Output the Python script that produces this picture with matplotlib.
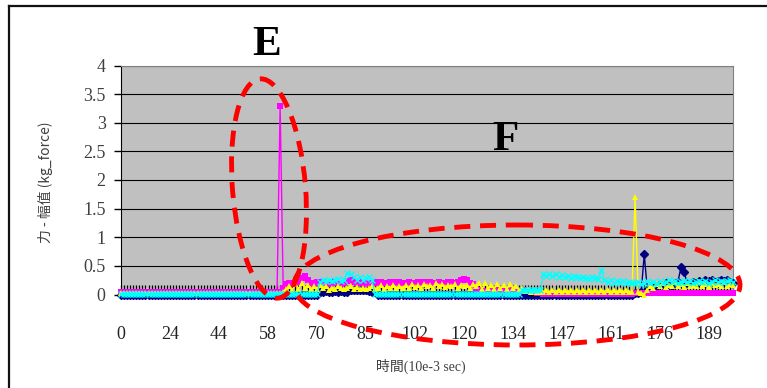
import matplotlib
matplotlib.use("Agg")
import matplotlib.pyplot as plt
from matplotlib.patches import Ellipse
import numpy as np

plt.rcParams['font.family'] = ['Liberation Serif', 'Noto Sans CJK TC']

# category labels (time, 10e-3 sec), one label every 16 samples
time_labels = ['0', '24', '44', '58', '70', '85', '102', '120', '134', '147', '161', '176', '189']
yticks = [0, 0.5, 1, 1.5, 2, 2.5, 3, 3.5, 4]
ytick_labels = ['0', '0.5', '1', '1.5', '2', '2.5', '3', '3.5', '4']

# series values, rows of 10 samples (comment = first index)
black = [
    0.12, 0.12, 0.12, 0.12, 0.12, 0.12, 0.12, 0.12, 0.12, 0.12,  # 0
    0.12, 0.12, 0.12, 0.12, 0.12, 0.12, 0.12, 0.12, 0.12, 0.12,  # 10
    0.12, 0.12, 0.12, 0.12, 0.12, 0.12, 0.12, 0.12, 0.12, 0.12,  # 20
    0.12, 0.12, 0.12, 0.12, 0.12, 0.12, 0.12, 0.12, 0.12, 0.12,  # 30
    0.12, 0.12, 0.12, 0.12, 0.12, 0.12, 0.12, 0.12, 0.12, 0.12,  # 40
    0.12, 0.12, 0.12, 0.12, 0.12, 0.12, 0.12, 0.12, 0.12, 0.12,  # 50
    0.12, 0.12, 0.12, 0.12, 0.12, 0.12, 0.12, 0.12, 0.12, 0.12,  # 60
    0.12, 0.12, 0.12, 0.12, 0.12, 0.12, 0.12, 0.12, 0.12, 0.12,  # 70
    0.12, 0.12, 0.12, 0.12, 0.12, 0.12, 0.12, 0.12, 0.12, 0.12,  # 80
    0.12, 0.12, 0.12, 0.12, 0.12, 0.12, 0.12, 0.12, 0.12, 0.12,  # 90
    0.12, 0.12, 0.12, 0.12, 0.12, 0.12, 0.12, 0.12, 0.12, 0.12,  # 100
    0.12, 0.12, 0.12, 0.12, 0.12, 0.12, 0.12, 0.12, 0.12, 0.12,  # 110
    0.12, 0.12, 0.12, 0.12, 0.12, 0.12, 0.12, 0.12, 0.12, 0.12,  # 120
    0.12, 0.12, 0.12, 0.12, 0.12, 0.12, 0.12, 0.12, 0.12, 0.12,  # 130
    0.12, 0.12, 0.12, 0.12, 0.12, 0.12, 0.12, 0.12, 0.12, 0.12,  # 140
    0.12, 0.12, 0.12, 0.12, 0.12, 0.12, 0.12, 0.12, 0.12, 0.12,  # 150
    0.12, 0.12, 0.12, 0.12, 0.12, 0.12, 0.12, 0.12, 0.12, 0.12,  # 160
    0.12, 0.12, 0.12, 0.12, 0.12, 0.12, 0.12, 0.12, 0.12, 0.12,  # 170
    0.12, 0.12, 0.12, 0.12, 0.12, 0.12, 0.12, 0.12, 0.12, 0.12,  # 180
    0.12, 0.12, 0.12, 0.12, 0.12, 0.12, 0.12, 0.12, 0.12, 0.12,  # 190
    0.12,                                                        # 200
]

navy = [
    0, 0, 0, 0, 0, 0, 0, 0, 0, 0,  # 0
    0, 0, 0, 0, 0, 0, 0, 0, 0, 0,  # 10
    0, 0, 0, 0, 0, 0, 0, 0, 0, 0,  # 20
    0, 0, 0, 0, 0, 0, 0, 0, 0, 0,  # 30
    0, 0, 0, 0, 0, 0, 0, 0, 0, 0,  # 40
    0, 0, 0, 0, 0, 0, 0, 0, 0, 0,  # 50
    0, 0, 0, 0, 0, 0.05, 0.05, 0.06, 0.05, 0.05,  # 60
    0.06, 0.05, 0.06, 0.05, 0.05, 0.08, 0.08, 0.07, 0.08, 0.08,  # 70
    0.07, 0.06, 0.05, 0.05, 0, 0, 0, 0, 0, 0,  # 80
    0, 0, 0, 0, 0, 0, 0, 0, 0, 0,  # 90
    0, 0, 0, 0, 0, 0, 0, 0, 0, 0,  # 100
    0, 0, 0, 0, 0, 0, 0, 0, 0, 0,  # 110
    0, 0, 0, 0, 0, 0, 0, 0, 0, 0,  # 120
    0, 0, 0, 0, 0, 0, 0, 0, 0, 0,  # 130
    0, 0, 0, 0, 0, 0, 0, 0, 0, 0,  # 140
    0, 0, 0, 0, 0, 0, 0, 0, 0, 0,  # 150
    0, 0, 0, 0, 0, 0, 0, 0, 0.02, 0.03,  # 160
    0.05, 0.7, 0.08, 0.1, 0.12, 0.15, 0.18, 0.16, 0.2, 0.17,  # 170
    0.15, 0.2, 0.22, 0.48, 0.4, 0.2, 0.18, 0.22, 0.2, 0.24,  # 180
    0.22, 0.26, 0.23, 0.25, 0.22, 0.24, 0.26, 0.23, 0.25, 0.22,  # 190
    0.2,  # 200
]

magenta = [
    0.05, 0.05, 0.05, 0.05, 0.05, 0.05, 0.05, 0.05, 0.05, 0.05,  # 0
    0.05, 0.05, 0.05, 0.05, 0.05, 0.05, 0.05, 0.05, 0.05, 0.05,  # 10
    0.05, 0.05, 0.05, 0.05, 0.05, 0.05, 0.05, 0.05, 0.05, 0.05,  # 20
    0.05, 0.05, 0.05, 0.05, 0.05, 0.05, 0.05, 0.05, 0.05, 0.05,  # 30
    0.05, 0.05, 0.05, 0.05, 0.05, 0.05, 0.05, 0.05, 0.05, 0.05,  # 40
    0.05, 0.04, 3.3, 0.12, 0.18, 0.2, 0.19, 0.2, 0.22, 0.28,  # 50
    0.32, 0.26, 0.2, 0.19, 0.22, 0.21, 0.22, 0.2, 0.19, 0.2,  # 60
    0.21, 0.2, 0.19, 0.2, 0.24, 0.26, 0.22, 0.2, 0.2, 0.21,  # 70
    0.19, 0.2, 0.2, 0.21, 0.2, 0.21, 0.2, 0.2, 0.22, 0.21,  # 80
    0.2, 0.21, 0.2, 0.2, 0.21, 0.2, 0.2, 0.21, 0.2, 0.22,  # 90
    0.2, 0.21, 0.2, 0.2, 0.21, 0.2, 0.2, 0.22, 0.21, 0.2,  # 100
    0.21, 0.26, 0.27, 0.26, 0.2, 0.18, 0.12, 0.08, 0.06, 0.05,  # 110
    0.06, 0.05, 0.06, 0.07, 0.05, 0.06, 0.05, 0.06, 0.07, 0.06,  # 120
    0.05, 0.06, 0.07, 0.06, 0.05, 0.04, 0.03, 0.02, 0.01, 0.01,  # 130
    0.01, 0.01, 0.01, 0.01, 0.01, 0.01, 0.01, 0.01, 0.01, 0.01,  # 140
    0.01, 0.01, 0.01, 0.01, 0.01, 0.01, 0.01, 0.01, 0.01, 0.01,  # 150
    0.01, 0.01, 0.01, 0.01, 0.01, 0.01, 0.01, 0.01, 0.02, 0.02,  # 160
    0.03, 0.03, 0.03, 0.03, 0.03, 0.03, 0.03, 0.03, 0.03, 0.03,  # 170
    0.03, 0.03, 0.03, 0.03, 0.03, 0.03, 0.03, 0.03, 0.03, 0.03,  # 180
    0.03, 0.03, 0.03, 0.03, 0.03, 0.03, 0.03, 0.03, 0.03, 0.03,  # 190
    0.03,  # 200
]

yellow = [
    0.03, 0.03, 0.03, 0.03, 0.03, 0.03, 0.03, 0.03, 0.03, 0.03,  # 0
    0.03, 0.03, 0.03, 0.03, 0.03, 0.03, 0.03, 0.03, 0.03, 0.03,  # 10
    0.03, 0.03, 0.03, 0.03, 0.03, 0.03, 0.03, 0.03, 0.03, 0.03,  # 20
    0.03, 0.03, 0.03, 0.03, 0.03, 0.03, 0.03, 0.03, 0.03, 0.03,  # 30
    0.03, 0.03, 0.03, 0.03, 0.03, 0.03, 0.03, 0.03, 0.03, 0.03,  # 40
    0.03, 0.03, 0.03, 0.05, 0.1, 0.15, 0.08, 0.18, 0.1, 0.2,  # 50
    0.12, 0.16, 0.09, 0.14, 0.1, 0.17, 0.12, 0.15, 0.08, 0.12,  # 60
    0.1, 0.14, 0.11, 0.09, 0.12, 0.15, 0.1, 0.13, 0.09, 0.12,  # 70
    0.1, 0.11, 0.14, 0.1, 0.12, 0.16, 0.1, 0.14, 0.12, 0.17,  # 80
    0.11, 0.15, 0.12, 0.16, 0.12, 0.18, 0.13, 0.16, 0.12, 0.19,  # 90
    0.14, 0.17, 0.12, 0.2, 0.14, 0.18, 0.13, 0.16, 0.15, 0.18,  # 100
    0.12, 0.16, 0.14, 0.17, 0.12, 0.18, 0.14, 0.2, 0.1, 0.2,  # 110
    0.12, 0.17, 0.1, 0.19, 0.11, 0.16, 0.1, 0.18, 0.12, 0.15,  # 120
    0.08, 0.12, 0.06, 0.1, 0.05, 0.08, 0.04, 0.05, 0.05, 0.08,  # 130
    0.04, 0.07, 0.05, 0.08, 0.04, 0.07, 0.05, 0.08, 0.04, 0.07,  # 140
    0.05, 0.08, 0.04, 0.07, 0.05, 0.08, 0.04, 0.07, 0.05, 0.08,  # 150
    0.04, 0.07, 0.05, 0.08, 0.04, 0.07, 0.05, 0.05, 1.7, 0.05,  # 160
    0.03, 0.0, 0.08, 0.15, 0.12, 0.18, 0.14, 0.2, 0.13, 0.17,  # 170
    0.15, 0.22, 0.14, 0.18, 0.13, 0.2, 0.15, 0.17, 0.14, 0.21,  # 180
    0.15, 0.18, 0.13, 0.2, 0.16, 0.19, 0.14, 0.21, 0.15, 0.18,  # 190
    0.16,  # 200
]

cyan = [
    0.01, 0.01, 0.01, 0.01, 0.01, 0.01, 0.01, 0.01, 0.01, 0.01,  # 0
    0.01, 0.01, 0.01, 0.01, 0.01, 0.01, 0.01, 0.01, 0.01, 0.01,  # 10
    0.01, 0.01, 0.01, 0.01, 0.01, 0.01, 0.01, 0.01, 0.01, 0.01,  # 20
    0.01, 0.01, 0.01, 0.01, 0.01, 0.01, 0.01, 0.01, 0.01, 0.01,  # 30
    0.01, 0.01, 0.01, 0.01, 0.01, 0.01, 0.01, 0.01, 0.01, 0.01,  # 40
    0.01, 0.01, 0.01, 0.01, 0.01, 0.01, 0.01, 0.01, 0.01, 0.01,  # 50
    0.01, 0.01, 0.01, 0.01, 0.01, 0.22, 0.25, 0.23, 0.26, 0.24,  # 60
    0.25, 0.27, 0.24, 0.26, 0.38, 0.35, 0.3, 0.26, 0.3, 0.25,  # 70
    0.28, 0.3, 0.26, 0.01, 0.01, 0.01, 0.01, 0.01, 0.01, 0.01,  # 80
    0.01, 0.01, 0.01, 0.01, 0.01, 0.01, 0.01, 0.01, 0.01, 0.01,  # 90
    0.01, 0.01, 0.01, 0.01, 0.01, 0.01, 0.01, 0.01, 0.01, 0.01,  # 100
    0.01, 0.01, 0.01, 0.01, 0.01, 0.01, 0.01, 0.01, 0.01, 0.01,  # 110
    0.01, 0.01, 0.01, 0.01, 0.01, 0.01, 0.01, 0.01, 0.01, 0.01,  # 120
    0.01, 0.08, 0.08, 0.08, 0.08, 0.08, 0.08, 0.08, 0.35, 0.33,  # 130
    0.36, 0.32, 0.35, 0.31, 0.34, 0.3, 0.33, 0.29, 0.32, 0.3,  # 140
    0.28, 0.31, 0.29, 0.27, 0.3, 0.28, 0.27, 0.42, 0.26, 0.22,  # 150
    0.25, 0.2, 0.23, 0.21, 0.24, 0.2, 0.22, 0.2, 0.2, 0.22,  # 160
    0.18, 0.2, 0.24, 0.2, 0.22, 0.19, 0.23, 0.2, 0.22, 0.25,  # 170
    0.21, 0.23, 0.2, 0.22, 0.24, 0.21, 0.23, 0.2, 0.22, 0.24,  # 180
    0.21, 0.23, 0.2, 0.22, 0.25, 0.22, 0.24, 0.21, 0.23, 0.25,  # 190
    0.22,  # 200
]

W, H = 767, 388
fig = plt.figure(figsize=(W / 100, H / 100), dpi=100)
ax = fig.add_axes([121 / W, (H - 294.5) / H, 612 / W, (294.5 - 65.5) / H])
ax.set_facecolor('#C0C0C0')

x = np.arange(len(black))
for s in (navy, magenta, yellow, cyan):
    assert len(s) == len(x)

ax.plot(x, black, color='black', ls='none', marker='|', ms=4, mew=0.9, zorder=2, clip_on=False)
ax.plot(x, navy, color='#000080', lw=1, marker='D', ms=3.6, zorder=3, clip_on=False)
ax.plot(x, magenta, color='#FF00FF', lw=1, marker='s', ms=4.2, mew=0, zorder=4, clip_on=False)
ax.plot(x, yellow, color='#FFFF00', lw=1, marker='^', ms=4.6, mew=0, zorder=5, clip_on=False)
ax.plot(x, cyan, color='#00FFFF', lw=0.8, marker='x', ms=4.4, mew=1, zorder=6, clip_on=False)

ax.set_xlim(0, len(x) - 1)
ax.set_ylim(0, 4)
ax.set_yticks(yticks)
ax.set_yticklabels(ytick_labels)
ax.set_xticks(np.arange(len(time_labels)) * 16)
ax.set_xticklabels(time_labels)
ax.yaxis.grid(True, color='black', lw=0.8)
ax.set_axisbelow(True)

ax.spines['bottom'].set_visible(False)
ax.spines['left'].set_color('black')
ax.spines['top'].set_color('#808080')
ax.spines['right'].set_color('#808080')
ax.tick_params(axis='y', direction='out', length=5, width=1, color='black',
               labelcolor='#404040', labelsize=13, pad=6)
ax.tick_params(axis='x', length=0, labelcolor='#222222', labelsize=13, pad=23)

fig.text(45 / W, 1 - 182 / H, '力 - 幅值 (kg_force)', rotation=90, ha='center', va='center',
         fontsize=10, color='#404040', family=['Noto Sans CJK TC', 'DejaVu Sans'])
fig.text(421 / W, 1 - 366 / H, '時間(10e-3 sec)', ha='center', va='center',
         fontsize=10, color='#404040', family=['Liberation Serif', 'Noto Sans CJK TC'])

# overlay in pixel coordinates for annotations and the outer frame
ov = fig.add_axes([0, 0, 1, 1], zorder=10)
ov.set_xlim(0, W)
ov.set_ylim(H, 0)
ov.axis('off')
ov.patch.set_alpha(0)

ov.plot([8.5, W], [5.5, 5.5], color='#111111', lw=1.6)
ov.plot([8.5, 8.5], [5.5, H], color='#111111', lw=1.6)

ov.text(267, 45, 'E', fontsize=31, fontweight='bold', ha='center', va='center', color='black')
ov.text(505, 140, 'F', fontsize=31, fontweight='bold', ha='center', va='center', color='black')

ov.add_patch(Ellipse((269, 188.5), 73, 220, angle=-4.7, fill=False, ec='#FF0000',
                     lw=3.5, ls=(0, (3.3, 2))))
ov.add_patch(Ellipse((517, 285), 446, 120, angle=0, fill=False, ec='#FF0000',
                     lw=3.5, ls=(0, (3.3, 2))))

fig.savefig('out.png', dpi=100)
